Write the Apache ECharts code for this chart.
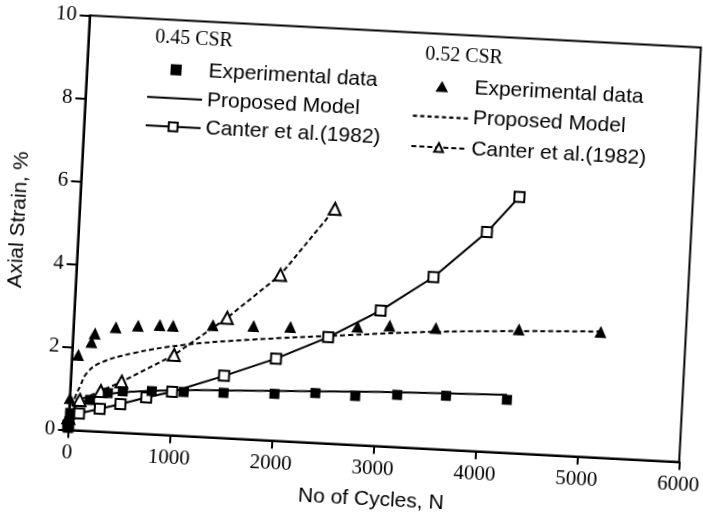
<!DOCTYPE html>
<html><head><meta charset="utf-8">
<script src="https://cdn.jsdelivr.net/npm/echarts@6/dist/echarts.min.js"></script>
<style>
html,body{margin:0;padding:0;background:#fff;overflow:hidden;width:703px;height:516px;}
#c{position:absolute;left:0;top:0;width:780px;height:580px;transform:rotate(3deg);transform-origin:351.5px 258px;}
</style>
</head><body><div id="c"></div>
<script>
// ---- data ----
const xTicks = [0, 1000, 2000, 3000, 4000, 5000, 6000];
const yTicks = [0, 2, 4, 6, 8, 10];

// 0.45 CSR
const exp45N = [0, 5, 11, 200, 371, 517, 800, 1114, 1504, 2003, 2403, 2795, 3205, 3684, 4282];
const exp45S = [0.05, 0.2, 0.41, 0.75, 0.94, 1.0, 1.04, 1.06, 1.09, 1.13, 1.2, 1.18, 1.26, 1.3, 1.28];
const model45N = [0, 10, 50, 100, 200, 400, 600, 1073, 2000, 3028, 4280];
const model45S = [0, 0.35, 0.55, 0.65, 0.78, 0.93, 1.0, 1.1, 1.2, 1.31, 1.4];
const canter45N = [0, 100, 300, 500, 750, 1000, 1500, 2000, 2500, 3000, 3500, 4000, 4300];
const canter45S = [0.1, 0.41, 0.55, 0.69, 0.88, 1.05, 1.5, 1.98, 2.56, 3.27, 4.14, 5.29, 6.18];

// 0.52 CSR
const exp52N = [3, 62, 186, 214, 416, 633, 845, 975, 1365, 1763, 2125, 2782, 3096, 3549, 4363, 5165];
const exp52S = [0.77, 1.82, 2.15, 2.36, 2.53, 2.6, 2.64, 2.64, 2.71, 2.74, 2.76, 2.85, 2.92, 2.92, 2.99, 3.03];
const model52N = [0, 20, 60, 95, 154, 278, 598, 1082, 1731, 2705, 3680, 5145];
const model52S = [0, 0.5, 0.85, 1.06, 1.39, 1.65, 1.93, 2.19, 2.4, 2.64, 2.85, 3.04];
const canter52N = [0, 100, 300, 500, 1000, 1500, 2000, 2500];
const canter52S = [0.3, 0.74, 0.98, 1.23, 1.94, 2.9, 4.0, 5.66];

const legendNames = ['Experimental data', 'Proposed Model', 'Canter et al.(1982)'];
const groupTitles = ['0.45 CSR', '0.52 CSR'];

// ---- build ----
const zip = (a, b) => a.map((v, i) => [v, b[i]]);
const solidIcon = 'path://M0,0H55V2H0Z';
let dashIcon = 'path://';
for (let x = 0; x < 55; x += 7) { const w = Math.min(4, 55 - x); dashIcon += 'M' + x + ',0h' + w + 'v2h-' + w + 'z'; }
const squareIcon = 'path://M0,0H10V10H0Z';
const triIcon = 'path://M6,0L12,10.4L0,10.4Z';
const dashType = [5, 3];
const sans = 'Liberation Sans', serif = 'Liberation Serif';

const chart = echarts.init(document.getElementById('c'), null, {renderer: 'canvas'});
const legendCommon = {
  orient: 'vertical', padding: 0, itemWidth: 55, itemHeight: 11, selectedMode: false,
  textStyle: {fontFamily: sans, fontSize: 21, color: '#000'},
  formatter: n => n.slice(5)
};
const option = {
  animation: false,
  backgroundColor: '#fff',
  color: ['#000'],
  textStyle: {fontFamily: sans},
  grid: {left: 77.4, top: 29.6, width: 612, height: 415, show: true, borderColor: '#000', borderWidth: 2,
         backgroundColor: 'transparent', containLabel: false, outerBoundsMode: 'none'},
  xAxis: {
    type: 'value', min: xTicks[0], max: xTicks[xTicks.length - 1], interval: 1000,
    axisLine: {show: true, onZero: false, lineStyle: {color: '#000', width: 2}},
    axisTick: {show: true, length: 8, lineStyle: {color: '#000', width: 2}},
    axisLabel: {color: '#000', fontFamily: serif, fontSize: 21, margin: 12, formatter: v => String(v)},
    splitLine: {show: false},
    name: 'No of Cycles, N', nameLocation: 'middle', nameGap: 43,
    nameTextStyle: {fontFamily: sans, fontSize: 21, color: '#000'}
  },
  yAxis: {
    type: 'value', min: yTicks[0], max: yTicks[yTicks.length - 1], interval: 2,
    axisLine: {show: true, onZero: false, lineStyle: {color: '#000', width: 2}},
    axisTick: {show: true, length: 10, lineStyle: {color: '#000', width: 2}},
    axisLabel: {color: '#000', fontFamily: serif, fontSize: 21, margin: 13, formatter: v => String(v)},
    splitLine: {show: false},
    name: 'Axial Strain, %', nameLocation: 'middle', nameGap: 50, nameRotate: 90,
    nameTextStyle: {fontFamily: sans, fontSize: 21, color: '#000'}
  },
  legend: [
    Object.assign({}, legendCommon, {left: 138, top: 68.8, itemGap: 7.5,
      data: [{name: '0.45 ' + legendNames[0], icon: squareIcon}, {name: '0.45 ' + legendNames[1], icon: solidIcon}, {name: '0.45 ' + legendNames[2]}]}),
    Object.assign({}, legendCommon, {left: 404.4, top: 71.6, itemGap: 9.5,
      data: [{name: '0.52 ' + legendNames[0], icon: triIcon}, {name: '0.52 ' + legendNames[1], icon: dashIcon}, {name: '0.52 ' + legendNames[2]}]})
  ],
  graphic: [
    {type: 'text', x: 182.8, y: 48, style: {text: groupTitles[0], fontFamily: serif, fontSize: 20, fill: '#000', align: 'center', verticalAlign: 'middle'}},
    {type: 'text', x: 453.3, y: 51, style: {text: groupTitles[1], fontFamily: serif, fontSize: 20, fill: '#000', align: 'center', verticalAlign: 'middle'}}
  ],
  series: [
    {name: '0.45 ' + legendNames[1], type: 'line', data: zip(model45N, model45S), smooth: 0.4, symbol: 'none',
     lineStyle: {color: '#000', width: 2}, itemStyle: {color: '#000'}, z: 2},
    {name: '0.45 ' + legendNames[2], type: 'line', data: zip(canter45N, canter45S), symbol: 'emptyRect', symbolSize: 10,
     lineStyle: {color: '#000', width: 2}, itemStyle: {color: '#000', borderWidth: 2}, z: 3},
    {name: '0.45 ' + legendNames[0], type: 'scatter', data: zip(exp45N, exp45S), symbol: 'rect', symbolSize: 10,
     itemStyle: {color: '#000', opacity: 1}, z: 4},
    {name: '0.52 ' + legendNames[1], type: 'line', data: zip(model52N, model52S), smooth: 0.4, symbol: 'none',
     lineStyle: {color: '#000', width: 2, type: dashType}, itemStyle: {color: '#000'}, z: 2},
    {name: '0.52 ' + legendNames[2], type: 'line', data: zip(canter52N, canter52S), symbol: 'emptyTriangle', symbolSize: 12,
     lineStyle: {color: '#000', width: 2, type: dashType}, itemStyle: {color: '#000', borderWidth: 2}, z: 3},
    {name: '0.52 ' + legendNames[0], type: 'scatter', data: zip(exp52N, exp52S), symbol: 'triangle', symbolSize: 12,
     itemStyle: {color: '#000', opacity: 1}, z: 4}
  ]
};
chart.setOption(option);
</script>
</body></html>
